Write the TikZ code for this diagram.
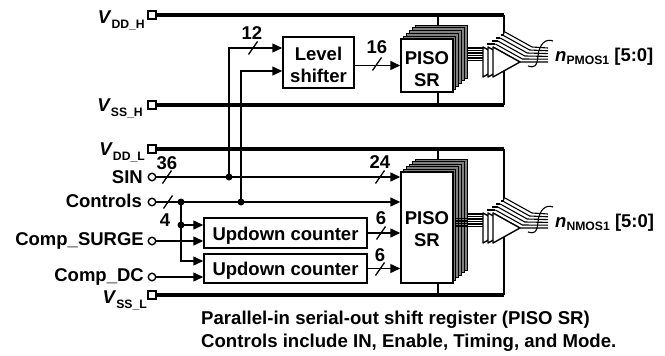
\documentclass[tikz,border=0pt]{standalone}
\usepackage{fontspec}
\setmainfont{Liberation Sans}
\usetikzlibrary{arrows.meta}
\tikzset{
  rail/.style={line width=3.4pt},
  wire/.style={line width=1.5pt},
  sig/.style={line width=1.5pt,-{Triangle[length=10pt,width=9pt]}},
  tick/.style={line width=1.3pt},
  block/.style={draw,line width=1.5pt,fill=white,inner sep=0pt,align=center,font=\fontsize{18.5}{22.5}\selectfont\bfseries},
  pinbox/.style={draw,line width=1.4pt,fill=white,minimum size=8pt,inner sep=0pt},
  pinring/.style={draw,circle,line width=1.4pt,fill=white,minimum size=7.5pt,inner sep=0pt},
  dot/.style={circle,fill=black,minimum size=7pt,inner sep=0pt},
  lab/.style={font=\fontsize{18.5}{22}\selectfont\bfseries,inner sep=0pt},
  note/.style={font=\fontsize{18.6}{22}\selectfont\bfseries,inner sep=0pt,anchor=west}
}
\newcommand{\pinlab}[3][5pt]{\textit{#2}\raisebox{-#1}{\fontsize{12.2}{14}\selectfont #3}}
\begin{document}
\begin{tikzpicture}[x=1pt,y=-1pt]
\useasboundingbox (0,0) rectangle (665,356);
% rails
\node[pinbox] (vddh) at (152,15) {};
\node[pinbox] (vssh) at (152,105) {};
\node[pinbox] (vddl) at (152,149) {};
\node[pinbox] (vssl) at (152,295) {};
\coordinate (vddhr) at (504,15);
\coordinate (vsshr) at (504,105);
\coordinate (vddlr) at (504,149);
\coordinate (vsslr) at (504,295);
\draw[wire] (vddhr) -- (vsshr);
\draw[wire] (vddlr) -- (vsslr);
\draw[wire] (438,15) -- (438,105);
\draw[wire] (438,149) -- (438,295);
\draw[rail] (vddh) -- (vddhr);
\draw[rail] (vssh) -- (vsshr);
\draw[rail] (vddl) -- (vddlr);
\draw[rail] (vssl) -- (vsslr);
% input pins
\node[pinring] (sin) at (152,177) {};
\node[pinring] (ctrl) at (152,202) {};
\node[pinring] (surge) at (152,241) {};
\node[pinring] (compdc) at (152,277) {};
\node[dot] (dsin) at (229,177) {};
\node[dot] (dctrla) at (181,202) {};
\node[dot] (dctrlb) at (241,202) {};
\node[dot] (dcnt) at (181,225) {};
% stacked registers
\foreach \i in {5,4,3,2,1}{
  \draw[line width=.9pt,fill=black!50] (401+2.8*\i,39-2.8*\i) rectangle (453+2.8*\i,92-2.8*\i);
  \draw[line width=.9pt,fill=black!50] (401+2.8*\i,172-2.6*\i) rectangle (453+2.8*\i,283-2.6*\i);
}
\node[block,minimum width=52pt,minimum height=53pt] (pisoh) at (427,65.5) {\rule{0pt}{20pt}PISO\\SR};
\node[block,minimum width=52pt,minimum height=111pt] (pisol) at (427,227.5) {\rule{0pt}{16pt}PISO\\SR};
\node[block,minimum width=71pt,minimum height=51pt] (level) at (318.5,62.5) {\rule{0pt}{18pt}Level\\shifter};
\node[block,minimum width=163pt,minimum height=30pt] (cnta) at (285.5,233) {\rule{0pt}{18pt}Updown counter};
\node[block,minimum width=163pt,minimum height=29pt] (cntb) at (285.5,268.5) {\rule{0pt}{18pt}Updown counter};
% buses
\draw[sig] (sin) -- (pisol.west |- sin);
\draw[sig] (ctrl) -- (pisol.west |- ctrl);
\draw[sig] (dsin.center) |- (level.west |- 0,48);
\draw[sig] (dctrlb.center) |- (level.west |- 0,71);
\draw[sig] (level.east |- pisoh) -- (pisoh.west);
\draw[sig] (dctrla.center) |- (cntb.west |- 0,261);
\draw[sig] (dcnt.center) -- (cnta.west |- dcnt);
\draw[sig] (surge) -- (cnta.west |- surge);
\draw[sig] (compdc) -- (cntb.west |- compdc);
\draw[sig] (cnta.east) -- (pisol.west |- cnta);
\draw[sig] (cntb.east) -- (pisol.west |- cntb);
% bus ticks and widths
\foreach \x/\y in {167/177,168/202,253/48,377/64,380/177,381/233,380/269}
  \draw[tick] (\x-4.5,\y+6.5) -- (\x+4.5,\y-6.5);
\node[lab] (w36) at (167,163) {36};
\node[lab] (w4) at (165,220) {4};
\node[lab] (w12) at (252,33) {12};
\node[lab] (w16) at (377,47) {16};
\node[lab] (w24) at (380,162) {24};
\node[lab] (w6a) at (381,218) {6};
\node[lab] (w6b) at (380,255) {6};
% output drivers
\foreach \dy in {0,166}{
\begin{scope}[shift={(0,\dy)}]
  \foreach \k in {0,...,5}
    \draw[line width=1.1pt] (467,48+2.5*\k) -- (484,48+2.5*\k);
  \foreach \k in {5,...,0}{
    \fill[white] (493+2.4*\k,47-3*\k) -- (520+2.4*\k,62-3*\k) -- (520,62) -- (493,62) -- cycle;
    \draw[line width=1.1pt] (493+2.4*\k,47-3*\k) -- (520+2.4*\k,62-3*\k) -- (548,62-2.8*\k);
  }
  \foreach \x in {483,488,493}
    \draw[line width=1.4pt,fill=white,line join=round] (\x,47) -- (\x,77) -- (\x+27,62) -- cycle;
  \foreach \k in {1,...,5}
    \draw[line width=1.8pt] (483+4.4*\k,47-3*\k) -- (493+2.4*\k,47-3*\k);
  \draw[line width=1.1pt] (528,66) .. controls (534,68) and (537,67) .. (538,56) .. controls (539,44) and (546,38) .. (553,41);
\end{scope}
}
\foreach \k in {0,...,3}
  \draw[line width=1.1pt] (455,226-2.5*\k) -- (467,226-2.5*\k);
% labels
\node[lab,anchor=base east] (lvddh) at (145,23.5) {\pinlab{V}{DD\_H}};
\node[lab,anchor=base east] (lvssh) at (143,111) {\pinlab{V}{SS\_H}};
\node[lab,anchor=base east] (lvddl) at (145,155) {\pinlab{V}{DD\_L}};
\node[lab,anchor=base east] (lvssl) at (147,303) {\pinlab{V}{SS\_L}};
\node[lab,anchor=east] (lsin) at (143,177) {SIN};
\node[lab,anchor=east] (lctrl) at (142,201) {Controls};
\node[lab,anchor=east] (lsurge) at (144,241) {Comp\_SURGE};
\node[lab,anchor=east] (ldc) at (144,277) {Comp\_DC};
\node[lab,anchor=base west] (lpmos) at (555,61) {\pinlab[3pt]{n}{PMOS1} [5:0]};
\node[lab,anchor=base west] (lnmos) at (555,227.5) {\pinlab[3pt]{n}{NMOS1} [5:0]};
\node[note] (notea) at (201,320) {Parallel-in serial-out shift register (PISO SR)};
\node[note] (noteb) at (201,343) {Controls include IN, Enable, Timing, and Mode.};
\end{tikzpicture}
\end{document}
